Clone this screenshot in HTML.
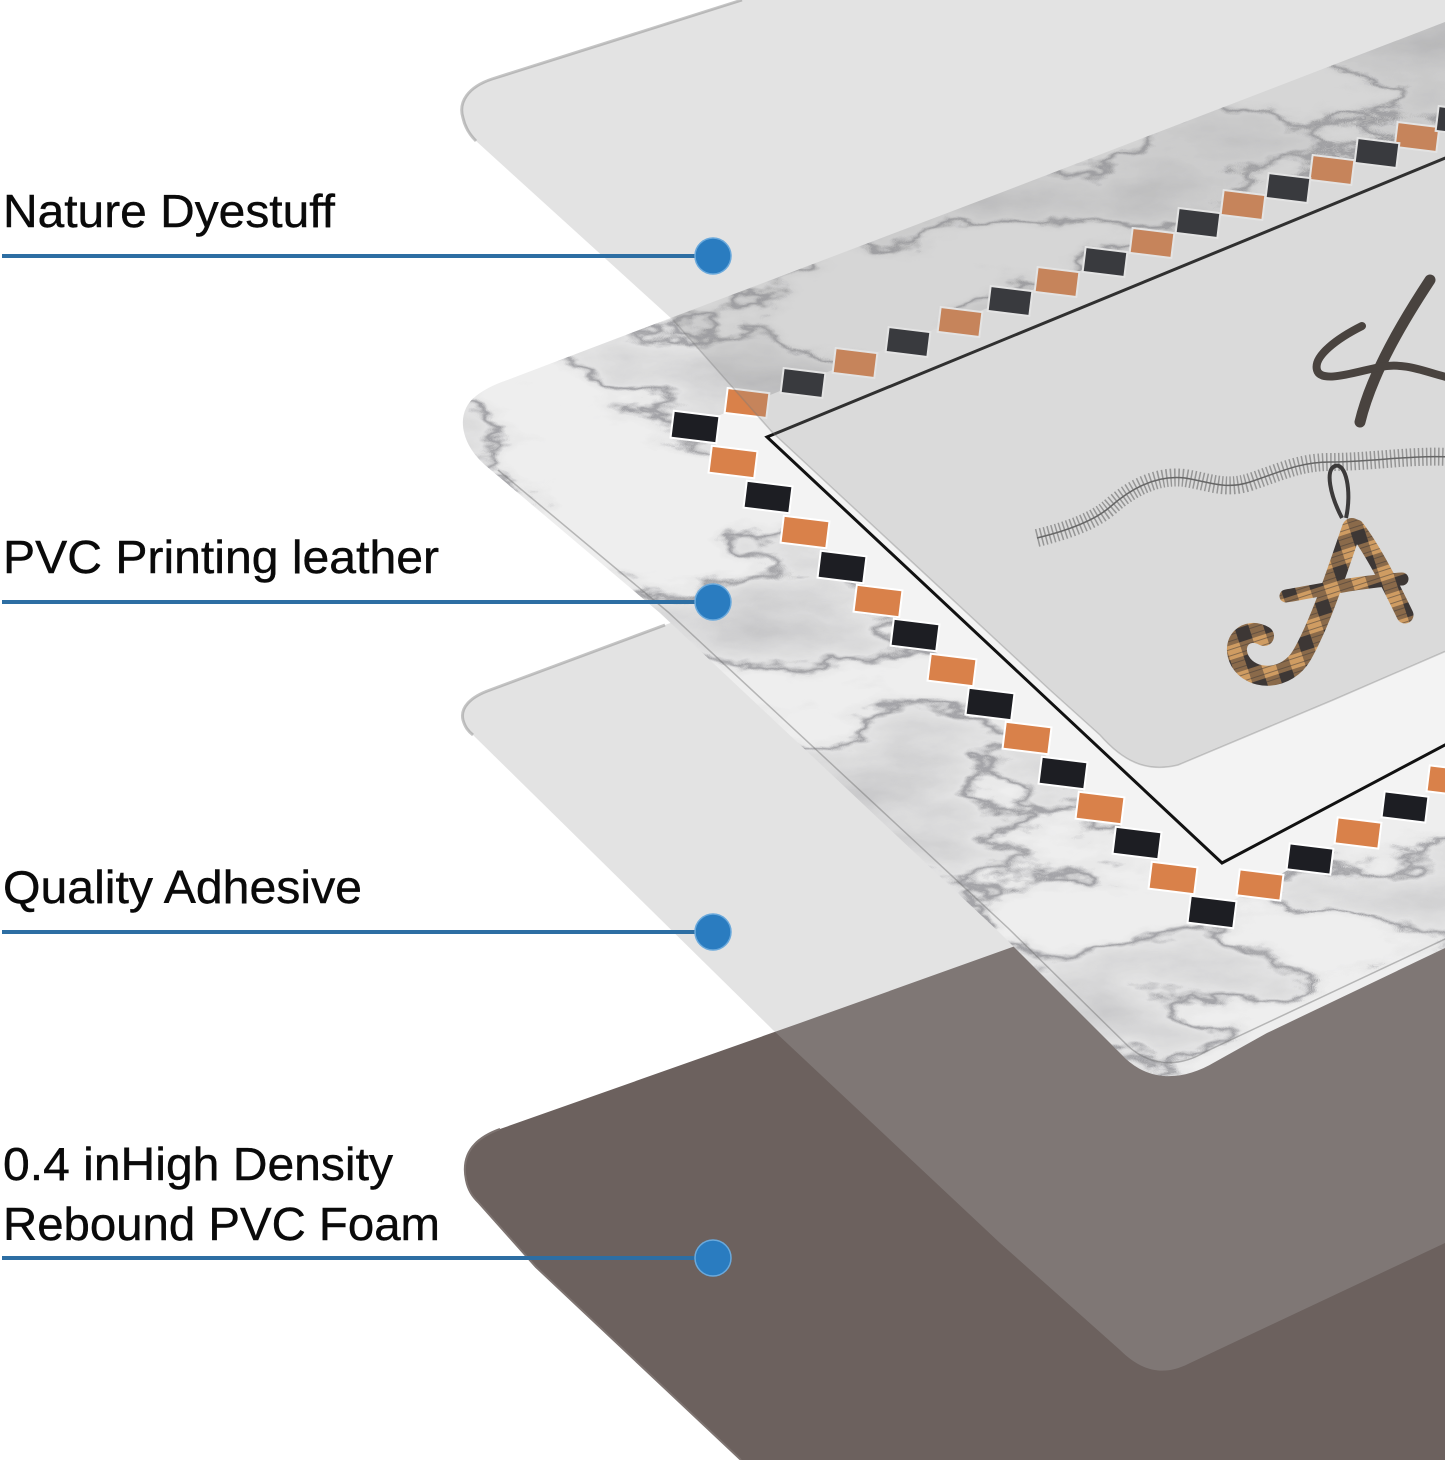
<!DOCTYPE html>
<html>
<head>
<meta charset="utf-8">
<style>
  html,body{margin:0;padding:0;background:#fff;}
  body{width:1445px;height:1460px;overflow:hidden;}
  svg{display:block;}
</style>
</head>
<body>
<svg width="1445" height="1460" viewBox="0 0 1445 1460" xmlns="http://www.w3.org/2000/svg">
  <defs>
    <clipPath id="marbleClip">
      <path d="M510,379 L1000,193 L1445,22 L1460,16 L1460,942 L1445,948 L1267,1033 L1215,1062 C1183,1081 1150,1082 1125,1058 L1000,933 L660,613 L485,465 C460,443 455,412 476,396 C486,388 496,384 510,379 Z"/>
    </clipPath>
    <filter id="mb" filterUnits="userSpaceOnUse" x="440" y="0" width="1020" height="1100" color-interpolation-filters="sRGB">
      <feTurbulence type="fractalNoise" baseFrequency="0.004 0.009" numOctaves="6" seed="11" result="n"/>
      <feColorMatrix in="n" type="matrix" values="0 0 0 0 0.5  0 0 0 0 0.5  0 0 0 0 0.52  1 0 0 0 0" result="g"/>
      <feComponentTransfer in="g" result="veins">
        <feFuncA type="table" tableValues="0 0 0 0 0 0 0 0 0 0 0 0 0 0 0 0 0 0 0 0 0 0 0 0 0 0 0 0.25 0.7 0.25 0 0 0 0 0 0 0 0 0 0 0 0 0 0 0 0 0 0 0 0 0 0 0 0 0 0 0"/>
      </feComponentTransfer>
      <feComponentTransfer in="g" result="mott">
        <feFuncA type="linear" slope="0.9" intercept="-0.37"/>
      </feComponentTransfer>
      <feMerge><feMergeNode in="mott"/><feMergeNode in="veins"/></feMerge>
    </filter>
    <pattern id="plaid" patternUnits="userSpaceOnUse" width="28" height="28" patternTransform="rotate(-18)">
      <rect width="28" height="28" fill="#cf9c62"/>
      <rect x="0" y="0" width="14" height="14" fill="#3d3735"/>
      <rect x="14" y="0" width="14" height="14" fill="#8a6a4a"/>
      <rect x="0" y="14" width="14" height="14" fill="#8a6a4a"/>
      <path d="M0,4 L28,4 M0,10 L28,10 M0,18 L28,18 M0,24 L28,24" stroke="#3d3735" stroke-width="1" opacity="0.5"/>
    </pattern>
  </defs>

  <rect x="0" y="0" width="1445" height="1460" fill="#ffffff"/>

  <!-- Layer 4: brown foam -->
  <path d="M1460,787 L800,1023 L500,1129 C472,1139 461,1156 466,1180 C468,1190 472,1196 478,1202 L536,1267 L741,1460 L1460,1460 Z" fill="#6c615e"/>
  <path d="M500,1129 C472,1139 461,1156 466,1180 C468,1190 472,1196 478,1202 L536,1267 L741,1460" fill="none" stroke="#7d7370" stroke-width="2"/>

  <!-- Layer 3: adhesive (translucent) -->
  <path d="M900,537 L665,625 L490,690 C470,697 460,708 463,720 C465,727 468,731 473,735 L773,1030 L1000,1243 L1120,1350 C1140,1370 1162,1377 1188,1364 L1445,1243 L1460,1236 L1460,900 L1200,900 Z" fill="rgb(169,169,169)" fill-opacity="0.32"/>
  <path d="M665,625 L490,690 C470,697 460,708 463,720 C465,727 468,731 473,735" fill="none" stroke="rgba(150,150,150,0.55)" stroke-width="3"/>

  <!-- Layer 2: marble print -->
  <g clip-path="url(#marbleClip)">
    <rect x="440" y="0" width="1020" height="1100" fill="#eeeeee"/>
    <rect x="440" y="0" width="1020" height="1100" fill="#000" filter="url(#mb)"/>
    <path d="M1460,119 L695,425 L1212,912 L1460,775 L1460,737 L1222,863 L767,437 L1460,152 Z" fill="#f3f3f3"/>
    <path d="M767,437 L1460,152 L1460,737 L1222,863 Z" fill="#f3f3f3" stroke="#111" stroke-width="3" stroke-linejoin="miter"/>
    <g stroke="#ffffff" stroke-width="2">
      <g fill="#d9814a">
        <rect x="726" y="390.5" width="42" height="25" transform="rotate(7 747 403)"/>
        <rect x="834" y="350.5" width="42" height="25" transform="rotate(7 855 363)"/>
        <rect x="939" y="309.5" width="42" height="25" transform="rotate(7 960 322)"/>
        <rect x="1036" y="269.5" width="42" height="25" transform="rotate(7 1057 282)"/>
        <rect x="1131" y="230.5" width="42" height="25" transform="rotate(7 1152 243)"/>
        <rect x="1222" y="192.5" width="42" height="25" transform="rotate(7 1243 205)"/>
        <rect x="1311" y="157.5" width="42" height="25" transform="rotate(7 1332 170)"/>
        <rect x="1396" y="124.5" width="42" height="25" transform="rotate(7 1417 137)"/>
      </g>
      <g fill="#1d1e23">
        <rect x="782" y="370.5" width="42" height="25" transform="rotate(7 803 383)"/>
        <rect x="887" y="329.5" width="42" height="25" transform="rotate(7 908 342)"/>
        <rect x="989" y="288.5" width="42" height="25" transform="rotate(7 1010 301)"/>
        <rect x="1084" y="249.5" width="42" height="25" transform="rotate(7 1105 262)"/>
        <rect x="1177" y="210.5" width="42" height="25" transform="rotate(7 1198 223)"/>
        <rect x="1267" y="175.5" width="42" height="25" transform="rotate(7 1288 188)"/>
        <rect x="1356" y="140.5" width="42" height="25" transform="rotate(7 1377 153)"/>
        <rect x="1437" y="108.5" width="42" height="25" transform="rotate(7 1458 121)"/>
      </g>
      <g fill="#1d1e23">
        <rect x="672" y="413.5" width="46" height="27" transform="rotate(7 695 427)"/>
        <rect x="745" y="483.5" width="46" height="27" transform="rotate(7 768 497)"/>
        <rect x="819" y="553.5" width="46" height="27" transform="rotate(7 842 567)"/>
        <rect x="892" y="621.5" width="46" height="27" transform="rotate(7 915 635)"/>
        <rect x="967" y="690.5" width="46" height="27" transform="rotate(7 990 704)"/>
        <rect x="1040" y="759.5" width="46" height="27" transform="rotate(7 1063 773)"/>
        <rect x="1114" y="829.5" width="46" height="27" transform="rotate(7 1137 843)"/>
        <rect x="1189" y="898.5" width="46" height="27" transform="rotate(7 1212 912)"/>
      </g>
      <g fill="#d9814a">
        <rect x="710" y="448.5" width="46" height="27" transform="rotate(7 733 462)"/>
        <rect x="782" y="518.5" width="46" height="27" transform="rotate(7 805 532)"/>
        <rect x="855" y="587.5" width="46" height="27" transform="rotate(7 878 601)"/>
        <rect x="929" y="656.5" width="46" height="27" transform="rotate(7 952 670)"/>
        <rect x="1004" y="724.5" width="46" height="27" transform="rotate(7 1027 738)"/>
        <rect x="1077" y="794.5" width="46" height="27" transform="rotate(7 1100 808)"/>
        <rect x="1150" y="864.5" width="46" height="27" transform="rotate(7 1173 878)"/>
      </g>
      <g fill="#d9814a">
        <rect x="1238" y="872" width="44" height="26" transform="rotate(7 1260 885)"/>
        <rect x="1336" y="820" width="44" height="26" transform="rotate(7 1358 833)"/>
        <rect x="1428" y="768" width="44" height="26" transform="rotate(7 1450 781)"/>
      </g>
      <g fill="#1d1e23">
        <rect x="1288" y="846" width="44" height="26" transform="rotate(7 1310 859)"/>
        <rect x="1383" y="794" width="44" height="26" transform="rotate(7 1405 807)"/>
      </g>
    </g>
    <path d="M498,470 L668,612 L1008,928 L1128,1046 C1150,1066 1178,1068 1205,1052 L1460,932" fill="none" stroke="rgba(110,110,110,0.45)" stroke-width="1.5"/>
  </g>

  <!-- Layer 1: top translucent sheet -->
  <path d="M760,-6 L492,79 C468,87 458,102 463,118 C465,127 469,134 476,141 L673,320 L772,432 L1050,690 L1100,735 C1122,760 1145,773 1178,765 L1333,700 L1460,645 L1460,-6 Z" fill="rgb(143,143,143)" fill-opacity="0.25"/>
  <path d="M742,0 L492,79 C468,87 458,102 463,118 C465,127 469,134 476,141" fill="none" stroke="rgba(150,150,150,0.55)" stroke-width="3"/>
  <path d="M673,320 L772,432 L1050,690 L1100,735 C1122,760 1145,773 1178,765 L1333,700 L1460,645" fill="none" stroke="rgba(120,120,120,0.35)" stroke-width="1.5"/>

  <!-- Artwork -->
  <path d="M1430,280 C1405,318 1372,372 1360,422" fill="none" stroke="#49433f" stroke-width="11" stroke-linecap="round"/>
  <path d="M1362,326 C1338,338 1313,356 1317,370 C1321,384 1355,372 1380,367 C1405,362 1425,372 1450,378" fill="none" stroke="#49433f" stroke-width="8" stroke-linecap="round"/>
  <path d="M1037,538 C1070,530 1095,520 1110,507 C1135,485 1160,475 1185,478 C1210,482 1225,490 1250,482 C1280,472 1300,462 1330,462 C1370,462 1410,455 1450,457" fill="none" stroke="#8a8a8a" stroke-width="18" stroke-dasharray="1.5 2.5" opacity="0.85"/>
  <path d="M1037,538 C1070,530 1095,520 1110,507 C1135,485 1160,475 1185,478 C1210,482 1225,490 1250,482 C1280,472 1300,462 1330,462 C1370,462 1410,455 1450,457" fill="none" stroke="#666" stroke-width="1.5"/>
  <path d="M1342,518 C1330,495 1325,470 1335,466 C1346,462 1352,492 1346,518" fill="none" stroke="#3c3a3a" stroke-width="4"/>
  <g fill="none" stroke="url(#plaid)" stroke-linecap="round">
    <path d="M1352,528 C1340,562 1322,620 1302,655 C1287,681 1252,682 1240,661 C1230,642 1246,626 1264,636" stroke-width="20"/>
    <path d="M1356,528 C1374,552 1390,584 1405,615" stroke-width="17"/>
    <path d="M1286,596 C1322,590 1362,581 1402,579" stroke-width="13"/>
  </g>

  <!-- connectors -->
  <g stroke="#2d6ea3" stroke-width="4">
    <line x1="2" y1="256" x2="705" y2="256"/>
    <line x1="2" y1="602" x2="705" y2="602"/>
    <line x1="2" y1="932" x2="705" y2="932"/>
    <line x1="2" y1="1258" x2="705" y2="1258"/>
  </g>
  <g fill="#2a7cc0" stroke="#6aa9dc" stroke-width="1.5">
    <circle cx="713" cy="256" r="18"/>
    <circle cx="713" cy="602" r="18"/>
    <circle cx="713" cy="932" r="18"/>
    <circle cx="713" cy="1258" r="18"/>
  </g>

  <!-- labels -->
  <g font-family="'Liberation Sans', Arial, sans-serif" font-size="46" fill="#0a0a0a" stroke="#0a0a0a" stroke-width="0.4">
    <text x="3" y="227" textLength="332" lengthAdjust="spacingAndGlyphs">Nature Dyestuff</text>
    <text x="3" y="573" textLength="436" lengthAdjust="spacingAndGlyphs">PVC Printing leather</text>
    <text x="3" y="903" textLength="359" lengthAdjust="spacingAndGlyphs">Quality Adhesive</text>
    <text x="3" y="1180" textLength="390" lengthAdjust="spacingAndGlyphs">0.4 inHigh Density</text>
    <text x="3" y="1240" textLength="437" lengthAdjust="spacingAndGlyphs">Rebound PVC Foam</text>
  </g>
</svg>
</body>
</html>
